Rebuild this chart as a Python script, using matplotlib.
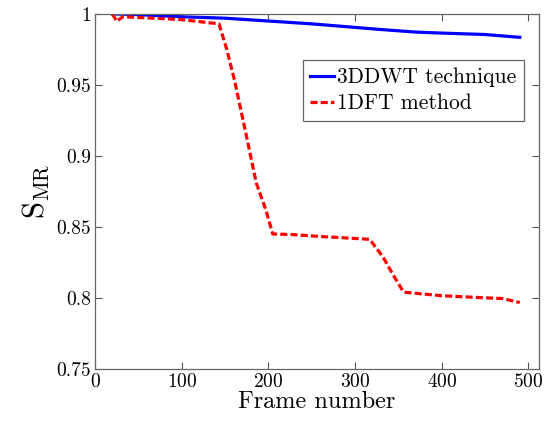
import numpy as np
import matplotlib
matplotlib.use("Agg")
import matplotlib.pyplot as plt

plt.rcParams['font.family'] = 'cmr10'
plt.rcParams['mathtext.fontset'] = 'cm'
plt.rcParams['axes.formatter.use_mathtext'] = True

# data
frames_3d = [20, 50, 100, 150, 200, 250, 300, 330, 370, 400, 450, 490]
smr_3d = [1.0, 0.9995, 0.998, 0.997, 0.995, 0.993, 0.9905, 0.989, 0.9872, 0.9865, 0.9855, 0.9835]

frames_1d = [20, 25, 32, 50, 100, 143, 152, 161, 175, 186, 197, 205, 230, 260, 290, 317, 322, 332, 345, 356,
             400, 450, 470, 490]
smr_1d = [1.0, 0.9948, 0.998, 0.9975, 0.996, 0.993, 0.975, 0.953, 0.913, 0.881, 0.862, 0.845, 0.8445,
          0.8432, 0.8422, 0.8412, 0.837, 0.829, 0.815, 0.804, 0.8015, 0.8, 0.7995, 0.7967]

fig = plt.figure(figsize=(5.59, 4.22), dpi=100)
ax = fig.add_axes([0.170, 0.126, 0.794, 0.841])

ax.plot(frames_3d, smr_3d, color='#0000ff', lw=2.3, label='3DDWT technique')
ax.plot(frames_1d, smr_1d, color='#ff0000', lw=2.3, ls=(0, (2.2, 1.0)), label='1DFT method')

ax.set_xlim(0, 512)
ax.set_ylim(0.75, 1.0)
ax.set_xticks([0, 100, 200, 300, 400, 500])
ax.set_yticks([0.75, 0.8, 0.85, 0.9, 0.95, 1.0])
ax.set_yticklabels(['0.75', '0.8', '0.85', '0.9', '0.95', '1'])
ax.tick_params(direction='in', top=True, right=True, labelsize=14, length=5, color='#555555', pad=3)
for s in ax.spines.values():
    s.set_color('#666666')
    s.set_linewidth(0.9)

ax.set_xlabel('Frame number', fontsize=17.5, labelpad=0)
ax.set_ylabel(r'$\mathrm{S}_{\mathrm{MR}}$', fontsize=22, labelpad=4)

leg = ax.legend(loc='upper right', bbox_to_anchor=(0.966, 0.870), fontsize=15.5, fancybox=False,
                framealpha=1, edgecolor='#666666', handlelength=1.1, handletextpad=0.15,
                borderpad=0.35, labelspacing=0.3, borderaxespad=0)
leg.get_frame().set_linewidth(0.9)

fig.savefig('out.png', dpi=100)
